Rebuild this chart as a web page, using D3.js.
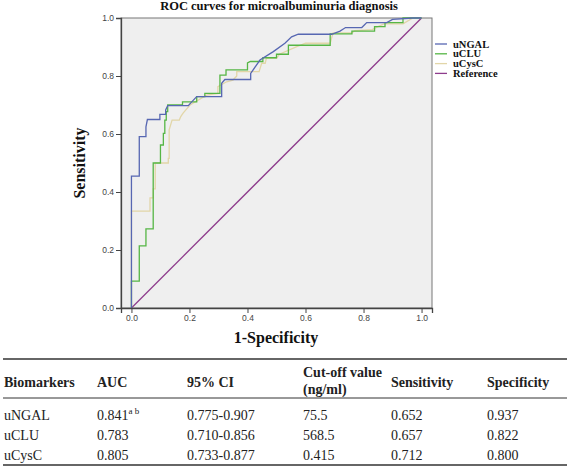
<!DOCTYPE html>
<html><head><meta charset="utf-8">
<script src="https://cdn.jsdelivr.net/npm/d3@7"></script>
<style>body{margin:0;background:#fff}svg{display:block}</style>
</head><body>
<svg id="chart" width="567" height="470"></svg>
<script>
// ---- data ----
const seriesNames = ["uNGAL", "uCLU", "uCysC", "Reference"];
const seriesColors = ["#5767b2", "#56b645", "#e2d6a8", "#8e3c8c"];
const uNGAL = [[0,0],[0,0.455],[0.027,0.455],[0.027,0.591],[0.05,0.591],[0.05,0.625],[0.055,0.65],[0.098,0.65],[0.098,0.668],[0.118,0.668],[0.118,0.683],[0.125,0.698],[0.196,0.698],[0.207,0.71],[0.225,0.729],[0.311,0.729],[0.311,0.775],[0.322,0.788],[0.411,0.788],[0.411,0.809],[0.443,0.855],[0.489,0.884],[0.529,0.913],[0.552,0.935],[0.575,0.944],[0.69,0.944],[0.719,0.955],[0.738,0.967],[0.794,0.967],[0.811,0.984],[0.88,0.984],[0.9,0.995],[0.97,1],[1,1]];
const uCLU = [[0,0],[0,0.093],[0.027,0.093],[0.027,0.214],[0.05,0.214],[0.05,0.273],[0.075,0.273],[0.075,0.5],[0.1,0.5],[0.1,0.562],[0.11,0.562],[0.11,0.602],[0.115,0.602],[0.115,0.648],[0.12,0.648],[0.12,0.677],[0.125,0.677],[0.125,0.7],[0.176,0.7],[0.176,0.711],[0.225,0.711],[0.225,0.729],[0.253,0.729],[0.253,0.74],[0.305,0.74],[0.305,0.803],[0.326,0.803],[0.326,0.821],[0.4,0.821],[0.4,0.845],[0.41,0.85],[0.453,0.85],[0.453,0.863],[0.5,0.863],[0.5,0.875],[0.541,0.875],[0.541,0.906],[0.685,0.906],[0.685,0.945],[0.76,0.945],[0.76,0.955],[0.838,0.955],[0.838,0.97],[0.874,0.97],[0.874,0.984],[0.936,0.984],[0.936,1],[1,1]];
const uCysC = [[0,0],[0,0.334],[0.064,0.334],[0.064,0.38],[0.075,0.38],[0.075,0.411],[0.082,0.411],[0.082,0.5],[0.127,0.5],[0.127,0.516],[0.13,0.516],[0.13,0.614],[0.14,0.648],[0.165,0.648],[0.17,0.66],[0.178,0.672],[0.202,0.7],[0.259,0.734],[0.298,0.74],[0.298,0.763],[0.328,0.78],[0.35,0.786],[0.363,0.8],[0.363,0.815],[0.44,0.815],[0.449,0.844],[0.461,0.844],[0.465,0.861],[0.5,0.861],[0.51,0.875],[0.57,0.901],[0.6,0.913],[0.685,0.913],[0.695,0.949],[0.76,0.949],[0.77,0.956],[0.83,0.96],[0.85,0.97],[0.87,0.98],[0.936,0.98],[0.97,1],[1,1]];
const reference = [[0,0],[1,1]];
const seriesData = [uNGAL, uCLU, uCysC, reference];
const ticks = [0, 0.2, 0.4, 0.6, 0.8, 1.0];

const tableHeader = ["Biomarkers", "AUC", "95% CI", "Cut-off value|(ng/ml)", "Sensitivity", "Specificity"];
const tableBiomarkers = ["uNGAL", "uCLU", "uCysC"];
const tableAUC = ["0.841", "0.783", "0.805"];
const tableAUCsup = ["a b", "", ""];
const tableCI = ["0.775-0.907", "0.710-0.856", "0.733-0.877"];
const tableCutoff = ["75.5", "568.5", "0.415"];
const tableSens = ["0.652", "0.657", "0.712"];
const tableSpec = ["0.937", "0.822", "0.800"];

// ---- chart ----
const svg = d3.select("#chart");
const serif = "'Liberation Serif','Times New Roman',serif";
const sans = "'Liberation Sans',Arial,sans-serif";
const x = d3.scaleLinear().domain([-0.036, 1.036]).range([121, 432]);
const y = d3.scaleLinear().domain([0, 1]).range([308, 18]);

svg.append("rect").attr("x", 121).attr("y", 18).attr("width", 311).attr("height", 290)
  .attr("fill", "#efefef").attr("stroke", "#777").attr("stroke-width", 1);

const line = d3.line().x(d => x(d[0])).y(d => y(d[1]));
const order = [3, 2, 1, 0];
order.forEach(i => {
  svg.append("path").datum(seriesData[i]).attr("d", line)
    .attr("fill", "none").attr("stroke", seriesColors[i]).attr("stroke-width", 1.3);
});

const xAxis = svg.append("g").attr("transform", "translate(0,308)")
  .call(d3.axisBottom(x).tickValues(ticks).tickFormat(d3.format(".1f")).tickSizeOuter(0).tickSize(5).tickPadding(2));
const yAxis = svg.append("g").attr("transform", "translate(121,0)")
  .call(d3.axisLeft(y).tickValues(ticks).tickFormat(d3.format(".1f")).tickSizeOuter(0).tickSize(5).tickPadding(2));
[xAxis, yAxis].forEach(g => {
  g.select(".domain").attr("stroke", "#444").attr("stroke-width", 1.3);
  g.selectAll(".tick line").attr("stroke", "#444");
  g.selectAll(".tick text").attr("font-family", sans).attr("font-size", 8.5).attr("fill", "#444");
});

svg.append("text").attr("x", 279).attr("y", 10).attr("text-anchor", "middle")
  .attr("font-family", serif).attr("font-weight", "bold").attr("font-size", 12.5).attr("fill", "#111")
  .text("ROC curves for microalbuminuria diagnosis");
svg.append("text").attr("x", 276).attr("y", 343).attr("text-anchor", "middle")
  .attr("font-family", serif).attr("font-weight", "bold").attr("font-size", 16).attr("fill", "#111")
  .text("1-Specificity");
svg.append("text").attr("transform", "translate(85,163) rotate(-90)").attr("text-anchor", "middle")
  .attr("font-family", serif).attr("font-weight", "bold").attr("font-size", 16).attr("fill", "#111")
  .text("Sensitivity");

// legend
const leg = svg.append("g");
seriesNames.forEach((n, i) => {
  const ly = 44 + i * 9.8;
  leg.append("line").attr("x1", 435).attr("x2", 447).attr("y1", ly).attr("y2", ly)
    .attr("stroke", seriesColors[i]).attr("stroke-width", 1.3);
  leg.append("text").attr("x", 453).attr("y", ly + 3.5)
    .attr("font-family", serif).attr("font-weight", "bold").attr("font-size", 10.5).attr("fill", "#111").text(n);
});

// table
const colX = [4, 97, 187, 303, 391, 487];
const tc = "#222";
svg.append("line").attr("x1", 3).attr("x2", 567).attr("y1", 359).attr("y2", 359).attr("stroke", "#333").attr("stroke-width", 1.5);
svg.append("line").attr("x1", 3).attr("x2", 567).attr("y1", 398).attr("y2", 398).attr("stroke", "#333").attr("stroke-width", 1);
svg.append("line").attr("x1", 3).attr("x2", 567).attr("y1", 465).attr("y2", 465).attr("stroke", "#333").attr("stroke-width", 1.5);
tableHeader.forEach((h, i) => {
  const parts = h.split("|");
  const t = svg.append("text").attr("font-family", serif).attr("font-weight", "bold")
    .attr("font-size", 14).attr("fill", tc);
  if (parts.length === 1) {
    t.attr("x", colX[i]).attr("y", 387).text(h);
  } else {
    t.append("tspan").attr("x", colX[i]).attr("y", 376.5).text(parts[0]);
    t.append("tspan").attr("x", colX[i]).attr("y", 394).text(parts[1]);
  }
});
const cols = [tableBiomarkers, tableAUC, tableCI, tableCutoff, tableSens, tableSpec];
tableBiomarkers.forEach((b, r) => {
  const by = 420 + r * 20;
  cols.forEach((c, ci) => {
    const t = svg.append("text").attr("x", colX[ci]).attr("y", by)
      .attr("font-family", serif).attr("font-size", 14).attr("fill", tc).text(c[r]);
    if (ci === 1 && tableAUCsup[r]) {
      t.append("tspan").attr("dy", -6).attr("font-size", 9).text(tableAUCsup[r]);
    }
  });
});
</script>
</body></html>
